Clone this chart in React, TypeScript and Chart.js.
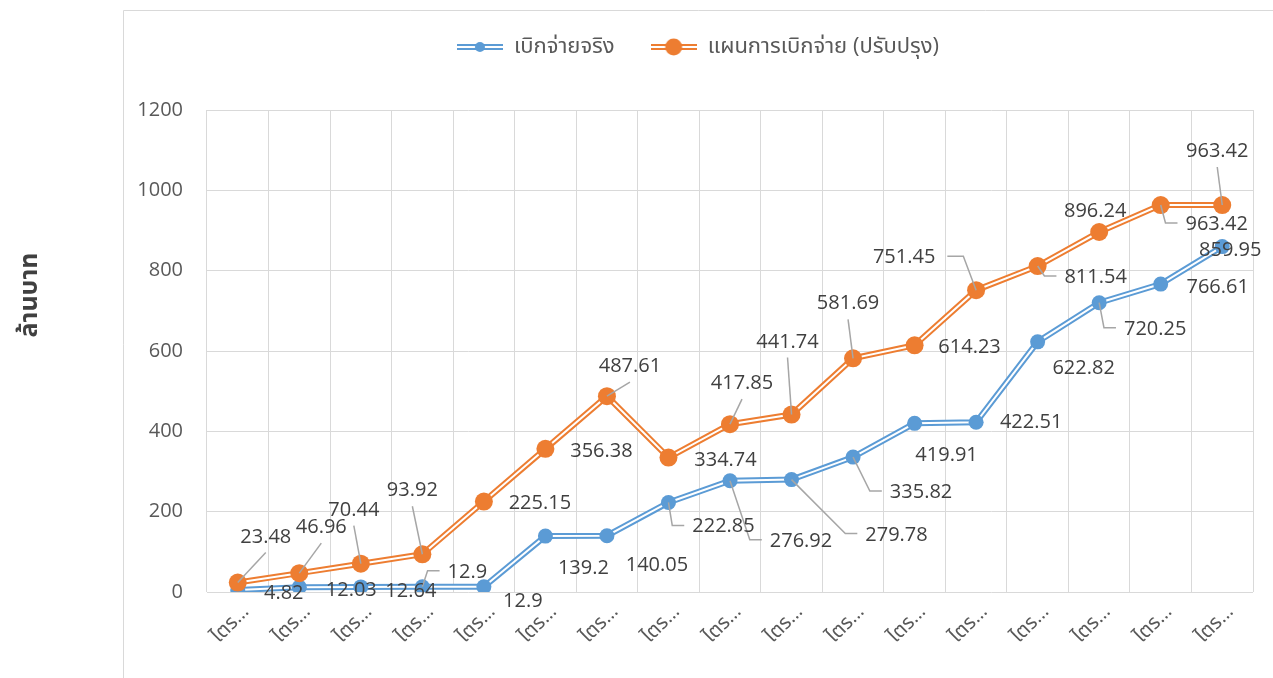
import React, { useEffect, useRef } from 'react';
import { Chart, registerables } from 'chart.js';

Chart.register(...registerables);

// ---------- data ----------
const quarterLabels = [
  'ไตร…', 'ไตร…', 'ไตร…', 'ไตร…', 'ไตร…', 'ไตร…', 'ไตร…', 'ไตร…', 'ไตร…',
  'ไตร…', 'ไตร…', 'ไตร…', 'ไตร…', 'ไตร…', 'ไตร…', 'ไตร…', 'ไตร…',
];
const actualSpending = [
  4.82, 12.03, 12.64, 12.9, 12.9, 139.2, 140.05, 222.85, 276.92,
  279.78, 335.82, 419.91, 422.51, 622.82, 720.25, 766.61, 859.95,
];
const plannedSpending = [
  23.48, 46.96, 70.44, 93.92, 225.15, 356.38, 487.61, 334.74, 417.85,
  441.74, 581.69, 614.23, 751.45, 811.54, 896.24, 963.42, 963.42,
];
const seriesNames = ['เบิกจ่ายจริง', 'แผนการเบิกจ่าย (ปรับปรุง)'];
const yAxisTitle = 'ล้านบาท';
const yMin = 0;
const yMax = 1200;
const yStep = 200;

// ---------- style ----------
const BLUE = '#5b9bd5';
const ORANGE = '#ed7d31';
const GRID = '#d9d9d9';
const TICK = '#595959';
const LABEL = '#404040';
const LEADER = '#a6a6a6';
const FONT = '"Open Sans", "Noto Sans", "Noto Sans Thai", sans-serif';

// label placement (offset from point in px, leader style) – presentation only
type Lay = [number, number, string];
const actualLabelLayout: Lay[] = [
  [46, 2, ''], [52, 2, ''], [50, 3, ''], [45, -16, 'h'], [39, 13, ''],
  [38, 31, ''], [50, 28, ''], [55, 23, 'h'], [71, 59, 'h'], [105, 54, 'h'],
  [68, 34, 'h'], [32, 31, ''], [55, -1, ''], [46, 25, ''], [56, 25, 'h'],
  [57, 2, ''], [8, 2, ''],
];
const plannedLabelLayout: Lay[] = [
  [28, -47, 'v'], [22, -47, 'v'], [-7, -55, 'v'], [-10, -65, 'v'], [56, 0, ''],
  [56, 1, ''], [23, -31, 'v'], [57, 1, ''], [12, -42, 'v'], [-4, -74, 'v'],
  [-5, -56, 'v'], [55, 1, ''], [-72, -34, 'hl'], [58, 10, 'h'], [-4, -22, ''],
  [56, 18, 'h'], [-5, -55, 'v'],
];

function legendSymbol(color: string, r: number) {
  const c = document.createElement('canvas');
  c.width = 46;
  c.height = 18;
  const ctx = c.getContext('2d')!;
  ctx.fillStyle = color;
  ctx.fillRect(0, 6, 46, 6);
  ctx.fillStyle = '#ffffff';
  ctx.fillRect(0, 8, 46, 2);
  ctx.beginPath();
  ctx.arc(23, 9, r, 0, Math.PI * 2);
  ctx.fillStyle = color;
  ctx.fill();
  return c;
}

const framePlugin = {
  id: 'frame',
  afterLayout(chart: any) {
    if (chart.legend) {
      chart.legend.left += 10;
      chart.legend.right += 10;
    }
  },
  beforeDraw(chart: any) {
    const ctx = chart.ctx;
    ctx.save();
    ctx.fillStyle = '#ffffff';
    ctx.fillRect(0, 0, chart.width, chart.height);
    ctx.strokeStyle = GRID;
    ctx.lineWidth = 1;
    ctx.beginPath();
    ctx.moveTo(123.5, chart.height);
    ctx.lineTo(123.5, 10.5);
    ctx.lineTo(chart.width, 10.5);
    ctx.stroke();
    ctx.restore();
  },
  afterDraw(chart: any) {
    const ctx = chart.ctx;
    ctx.save();
    ctx.translate(30, 295);
    ctx.rotate(-Math.PI / 2);
    ctx.font = `bold 25px ${FONT}`;
    ctx.fillStyle = LABEL;
    ctx.textAlign = 'center';
    ctx.textBaseline = 'middle';
    ctx.fillText(yAxisTitle, 0, 0);
    ctx.restore();
  },
};

const labelPlugin = {
  id: 'pointLabels',
  afterDatasetsDraw(chart: any) {
    const ctx = chart.ctx;
    ctx.save();
    ctx.font = `20px ${FONT}`;
    const groups = [
      { idx: 2, values: actualSpending, layout: actualLabelLayout },
      { idx: 5, values: plannedSpending, layout: plannedLabelLayout },
    ];
    const items: any[] = [];
    groups.forEach((g) => {
      const meta = chart.getDatasetMeta(g.idx);
      g.values.forEach((v, j) => {
        const pt = meta.data[j];
        const [dx, dy, leader] = g.layout[j];
        const text = String(v);
        const w = ctx.measureText(text).width;
        items.push({ px: pt.x, py: pt.y, cx: pt.x + dx, cy: pt.y + dy, w, text, leader });
      });
    });
    ctx.strokeStyle = LEADER;
    ctx.lineWidth = 1.5;
    items.forEach((it) => {
      if (!it.leader) return;
      const left = it.cx - it.w / 2;
      const right = it.cx + it.w / 2;
      ctx.beginPath();
      ctx.moveTo(it.px, it.py);
      if (it.leader === 'h') {
        ctx.lineTo(left - 20, it.cy);
        ctx.lineTo(left - 8, it.cy);
      } else if (it.leader === 'hl') {
        ctx.lineTo(right + 28, it.cy);
        ctx.lineTo(right + 12, it.cy);
      } else {
        ctx.lineTo(it.cx, it.cy + 17);
      }
      ctx.stroke();
    });
    ctx.fillStyle = LABEL;
    ctx.textAlign = 'center';
    ctx.textBaseline = 'alphabetic';
    items.forEach((it) => {
      ctx.fillText(it.text, it.cx, it.cy + 7);
    });
    ctx.restore();
  },
};

export default function App() {
  const ref = useRef<HTMLCanvasElement | null>(null);

  useEffect(() => {
    document.body.style.margin = '0';
    const canvas = ref.current!;
    const blueSym = legendSymbol(BLUE, 5);
    const orangeSym = legendSymbol(ORANGE, 8.5);

    const chart = new Chart(canvas, {
      type: 'line',
      data: {
        labels: quarterLabels,
        datasets: [
          { label: seriesNames[0], data: actualSpending, borderColor: BLUE, borderWidth: 6, pointRadius: 0, tension: 0, order: 5 },
          { label: seriesNames[0], data: actualSpending, borderColor: '#ffffff', borderWidth: 2, pointRadius: 0, tension: 0, order: 4 },
          { label: seriesNames[0], data: actualSpending, showLine: false, pointRadius: 7.5, pointBackgroundColor: BLUE, pointBorderColor: BLUE, pointBorderWidth: 0, borderColor: BLUE, order: 3 },
          { label: seriesNames[1], data: plannedSpending, borderColor: ORANGE, borderWidth: 6, pointRadius: 0, tension: 0, order: 2 },
          { label: seriesNames[1], data: plannedSpending, borderColor: '#ffffff', borderWidth: 2, pointRadius: 0, tension: 0, order: 1 },
          { label: seriesNames[1], data: plannedSpending, showLine: false, pointRadius: 9, pointBackgroundColor: ORANGE, pointBorderColor: ORANGE, pointBorderWidth: 0, borderColor: ORANGE, order: 0 },
        ],
      },
      options: {
        responsive: false,
        animation: false,
        events: [],
        layout: { padding: { left: 123, right: 20, top: 0, bottom: 0 } },
        plugins: {
          tooltip: { enabled: false },
          title: {
            display: true,
            text: '',
            position: 'top',
            weight: 500,
            font: { size: 10 },
            padding: { top: 30, bottom: 0 },
          } as any,
          legend: {
            display: true,
            position: 'top',
            labels: {
              usePointStyle: true,
              pointStyleWidth: 46,
              padding: 36,
              color: TICK,
              font: { family: FONT, size: 22 },
              generateLabels: () => [
                { text: seriesNames[0], pointStyle: blueSym as any, fillStyle: BLUE, strokeStyle: BLUE, lineWidth: 0, hidden: false, datasetIndex: 2, fontColor: TICK } as any,
                { text: seriesNames[1], pointStyle: orangeSym as any, fillStyle: ORANGE, strokeStyle: ORANGE, lineWidth: 0, hidden: false, datasetIndex: 5, fontColor: TICK } as any,
              ],
            },
          },
        },
        scales: {
          x: {
            type: 'category',
            offset: true,
            grid: { offset: true, color: GRID, drawTicks: false },
            border: { display: false },
            ticks: {
              autoSkip: false,
              minRotation: 45,
              maxRotation: 45,
              padding: 8,
              labelOffset: 8,
              color: TICK,
              font: { family: FONT, size: 20 },
            },
            afterFit: (scale: any) => { scale.height = 86; },
          },
          y: {
            min: yMin,
            max: yMax,
            grid: { color: GRID, drawTicks: false },
            border: { display: false },
            ticks: {
              stepSize: yStep,
              padding: 24,
              color: TICK,
              font: { family: FONT, size: 20 },
              callback: (v: any) => String(v),
            },
            afterFit: (scale: any) => { scale.width = 84; },
          },
        },
      },
      plugins: [framePlugin, labelPlugin],
    });
    return () => chart.destroy();
  }, []);

  return (
    <div style={{ width: 1273, height: 678, position: 'relative' }}>
      <canvas ref={ref} width={1273} height={678} style={{ display: 'block' }} />
    </div>
  );
}
